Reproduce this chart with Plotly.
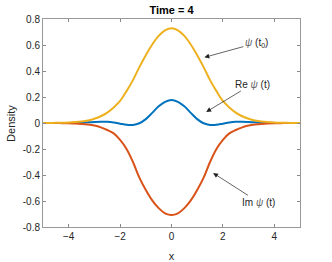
import plotly.graph_objects as go

x = [-5, -4.75, -4.5, -4.25, -4, -3.75, -3.5, -3.25, -3, -2.75, -2.5, -2.25, -2, -1.75, -1.5, -1.25, -1, -0.75, -0.5, -0.25,
     0, 0.25, 0.5, 0.75, 1, 1.25, 1.5, 1.75, 2, 2.25, 2.5, 2.75, 3, 3.25, 3.5, 3.75, 4, 4.25, 4.5, 4.75, 5]

psi0 = [0.0, 0.0005, 0.001, 0.002, 0.004, 0.007, 0.012, 0.020, 0.033, 0.052, 0.080, 0.120, 0.170, 0.245, 0.330, 0.430,
        0.522, 0.604, 0.670, 0.713, 0.728, 0.713, 0.670, 0.604, 0.522, 0.430, 0.330, 0.245, 0.170, 0.120, 0.080, 0.052,
        0.033, 0.020, 0.012, 0.007, 0.004, 0.002, 0.001, 0.0005, 0.0]

re_psi = [0, 0, 0, 0, 0, 0.001, 0.003, 0.005, 0.008, 0.010, 0.009, 0.004, -0.005, -0.014, -0.015, -0.002, 0.030, 0.078,
          0.128, 0.163, 0.177, 0.163, 0.128, 0.078, 0.030, -0.002, -0.015, -0.014, -0.005, 0.004, 0.009, 0.010, 0.008,
          0.005, 0.003, 0.001, 0, 0, 0, 0, 0]

im_psi = [0, 0, 0, -0.001, -0.002, -0.004, -0.007, -0.012, -0.020, -0.034, -0.054, -0.080, -0.130, -0.200, -0.300,
          -0.420, -0.515, -0.595, -0.655, -0.695, -0.708, -0.695, -0.655, -0.595, -0.515, -0.420, -0.300, -0.200,
          -0.130, -0.080, -0.054, -0.034, -0.020, -0.012, -0.007, -0.004, -0.002, -0.001, 0, 0, 0]

x_ticks = [-4, -2, 0, 2, 4]
y_ticks = [-0.8, -0.6, -0.4, -0.2, 0, 0.2, 0.4, 0.6, 0.8]
y_ticklabels = ["-0.8", "-0.6", "-0.4", "-0.2", "0", "0.2", "0.4", "0.6", "0.8"]

FONT = "Liberation Sans, Arial, Helvetica, sans-serif"
TXT = "#262626"

fig = go.Figure()
fig.add_trace(go.Scatter(x=x, y=re_psi, mode="lines", line=dict(color="#0072BD", width=2, shape="spline")))
fig.add_trace(go.Scatter(x=x, y=im_psi, mode="lines", line=dict(color="#D95319", width=2, shape="spline")))
fig.add_trace(go.Scatter(x=x, y=psi0, mode="lines", line=dict(color="#EDB120", width=2, shape="spline")))

PSI = "<span style='color:#666666'><i>ψ</i></span>"
annots = [
    dict(text=PSI + " (t<sub>0</sub>)", tx=3.3, ty=0.615, hx=1.28, hy=0.505),
    dict(text="Re " + PSI + " (t)", tx=3.15, ty=0.30, hx=1.35, hy=0.085),
    dict(text="Im " + PSI + " (t)", tx=3.4, ty=-0.61, hx=1.62, hy=-0.385),
]
for a in annots:
    fig.add_annotation(x=a["hx"], y=a["hy"], ax=a["tx"], ay=a["ty"], xref="x", yref="y", axref="x", ayref="y",
                       text=a["text"], showarrow=True, arrowhead=2, arrowsize=1.4, arrowwidth=0.7,
                       arrowcolor="#222222", font=dict(family=FONT, size=10, color=TXT))

fig.add_annotation(text="Density", xref="paper", yref="paper", x=-0.125, y=0.5, xanchor="center", yanchor="middle",
                   textangle=-90, showarrow=False, font=dict(family=FONT, size=11, color=TXT))

fig.update_layout(
    width=332, height=262,
    margin=dict(l=43, r=32, t=19, b=35),
    paper_bgcolor="white", plot_bgcolor="white",
    showlegend=False,
    font=dict(family=FONT, size=10, color=TXT),
    title=dict(text="<b>Time = 4</b>", x=0.5, xref="paper", y=0.96, yanchor="middle",
               font=dict(family=FONT, size=11, color="#000000")),
)
fig.update_xaxes(range=[-5, 5], tickvals=x_ticks, ticks="inside", ticklen=3, tickcolor="#888888",
                 showline=True, linecolor="#999999", linewidth=1, mirror="ticks", showgrid=False, zeroline=False,
                 automargin=False,
                 title=dict(text="x", font=dict(family=FONT, size=11, color=TXT)),
                 tickfont=dict(family=FONT, size=10, color=TXT))
fig.update_yaxes(range=[-0.8, 0.8], tickvals=y_ticks, ticktext=y_ticklabels, ticks="inside", ticklen=3,
                 tickcolor="#888888", showline=True, linecolor="#999999", linewidth=1, mirror="ticks",
                 showgrid=False, zeroline=False, automargin=False,
                 tickfont=dict(family=FONT, size=10, color=TXT))

fig.write_html("out.html", config={"displayModeBar": False},
               post_script="document.body.style.margin='0';document.body.style.padding='0';")
